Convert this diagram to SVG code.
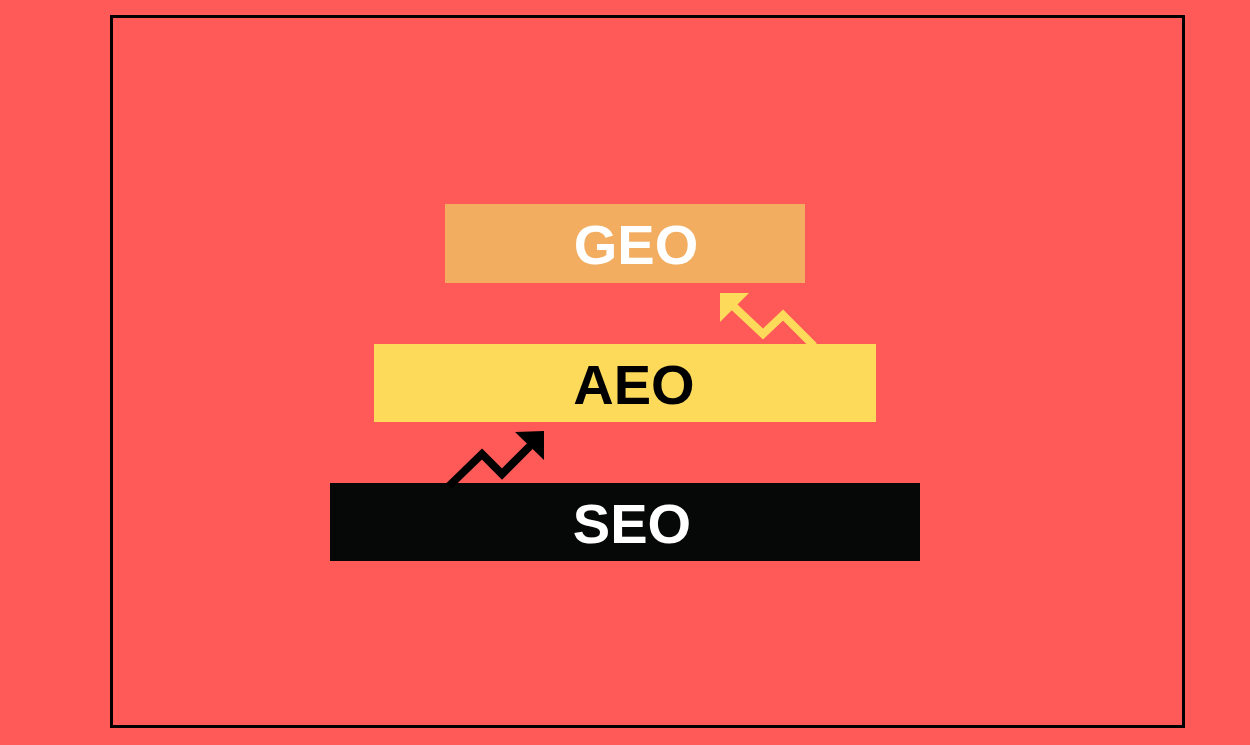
<svg xmlns="http://www.w3.org/2000/svg" width="1250" height="745" viewBox="0 0 1250 745">
<style>
.lbl{font-family:"Liberation Sans",Arial,sans-serif;font-weight:bold;font-size:56px;text-anchor:middle}
.zig{fill:none;stroke-width:8;stroke-linejoin:miter}
</style>
<rect x="0" y="0" width="1250" height="745" fill="#FF5A57"/>
<rect x="111.5" y="16.5" width="1072" height="710" fill="none" stroke="#000" stroke-width="3"/>
<g id="geo">
<rect x="445" y="204" width="360" height="79" fill="#F2AD60"/>
<text class="lbl" x="636" y="264" fill="#fff">GEO</text>
</g>
<g id="aeo">
<rect x="374" y="344" width="502" height="78" fill="#FEDA5A"/>
<text class="lbl" x="634" y="404" fill="#000">AEO</text>
</g>
<g id="seo">
<rect x="330" y="483" width="590" height="78" fill="#050807"/>
<text class="lbl" x="632" y="543" fill="#fff">SEO</text>
</g>
<g id="connectors">
<polyline class="zig" stroke="#000" points="449,486 482,454 502,474 532,444"/>
<polygon fill="#000" points="515,432 544,431 544,460"/>
<polyline class="zig" stroke="#FEDA5A" points="730,303 763,334 783,315 814,346"/>
<polygon fill="#FEDA5A" points="720,293 749,293 720,322"/>
</g>
</svg>
